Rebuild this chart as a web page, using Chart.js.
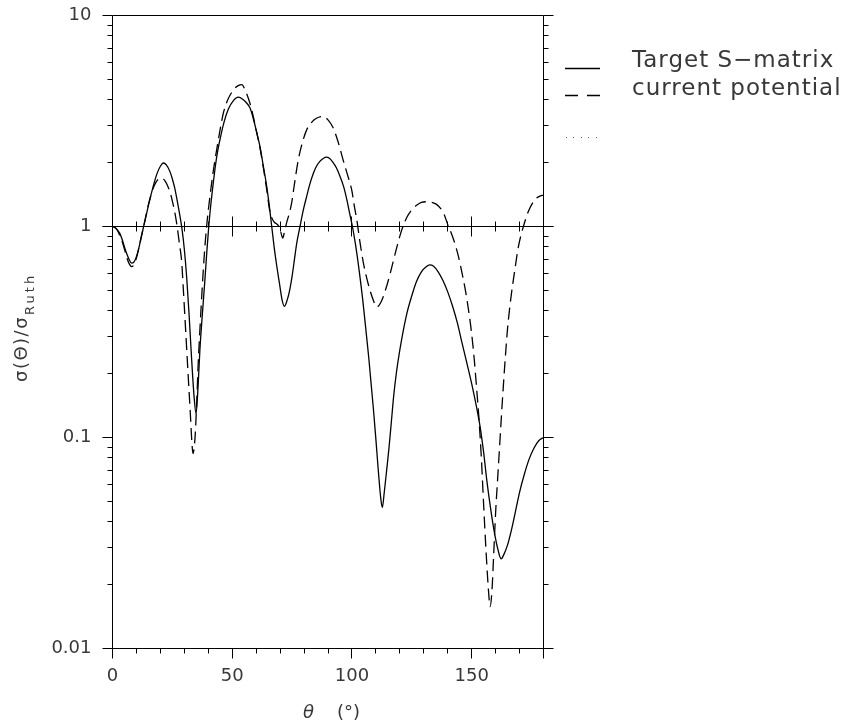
<!DOCTYPE html>
<html><head><meta charset="utf-8">
<script src="https://cdn.jsdelivr.net/npm/chart.js@4.4.1/dist/chart.umd.min.js"></script>
<style>html,body{margin:0;padding:0;background:#fff}#wrap{position:relative;width:844px;height:724px}canvas{display:block}</style>
</head><body><div id="wrap"><canvas id="c" width="844" height="724"></canvas></div>
<script>
// ---- data ----
const targetTheta = [0,1,2,3,4,5,6,7,8,9,10,11,12,13,14,15,16,17,18,19,20,21.2,22.5,24,25,26,27,28,29,30,31,32,33,34,34.9,35.8,36.5,37.5,38.6,39.4,40.2,41,42,43,44,45,46.5,48.4,50.5,52.5,54.5,56,57.4,58.8,60.2,61.6,63,64.4,65.5,66.5,67.5,68.6,69.7,70.8,71.8,73,74,75,76,77,78.3,79.7,81.1,82.5,83.9,85.3,86.7,88,89.3,90.7,92,93.5,95,96.5,98,99,100.2,101.5,103,104.5,106,107,108,109,110,111,112,112.7,113.5,114.5,115.5,116.5,117.5,118.5,120,121.5,123,125,127,129,131,132.5,134,136,138,140,142,144,146,148,150,152,153.5,155,156.3,157.8,159.3,160.8,162.3,163.5,165,166.5,168,170,172,174,176,178,180];
const targetSigma = [1.0,0.99,0.965,0.93,0.87,0.8,0.74,0.695,0.67,0.68,0.72,0.79,0.89,1.0,1.12,1.26,1.4,1.55,1.7,1.83,1.93,2.0,1.96,1.82,1.68,1.52,1.33,1.15,0.98,0.78,0.57,0.38,0.24,0.16,0.13,0.18,0.26,0.38,0.56,0.76,1.0,1.25,1.58,1.95,2.3,2.62,3.1,3.6,3.95,4.1,4.0,3.85,3.65,3.25,2.8,2.39,1.93,1.55,1.25,1.0,0.8,0.65,0.54,0.45,0.418,0.45,0.5,0.58,0.7,0.84,1.0,1.2,1.39,1.6,1.79,1.94,2.04,2.1,2.13,2.1,2.02,1.9,1.73,1.55,1.32,1.16,1.0,0.82,0.62,0.45,0.31,0.24,0.18,0.135,0.098,0.07,0.052,0.0466,0.055,0.07,0.09,0.12,0.16,0.2,0.26,0.324,0.39,0.47,0.55,0.61,0.645,0.658,0.65,0.61,0.555,0.49,0.42,0.35,0.28,0.225,0.18,0.14,0.113,0.085,0.063,0.047,0.0365,0.03,0.0266,0.028,0.031,0.036,0.043,0.055,0.067,0.079,0.089,0.0965,0.1];

const currentTheta = [0,1,2,3,4,5,6,7,8,9,10,11,12,13,14,15,16,17,18,19,20.5,22,23,24,25,26,27,28,28.9,29.6,30.5,31.7,32.5,33.1,33.6,34.5,35.2,35.8,36.6,37.5,38.4,39.3,40.7,42,43.5,45,46.3,48,50.5,52.5,54,55.5,57.4,58.8,60.2,61.6,63,64.4,65.5,66.5,67.5,68.5,69.5,70.3,71.1,71.8,72.7,73.8,74.8,76.2,77.6,79.3,81.1,83,85,88,90,92.2,94.3,96.3,98,99.9,101,102,103.3,104.7,106,107.5,109,110.3,112,114,116,118,120,121.3,123,125,127,129,131,133,135,137,138.5,140.3,141.5,143,144.5,146,147.5,149,150,151,152,153,154,155,156,157,157.7,158.5,159.2,160,161,162,163,164,165,166.5,168,169.5,171.6,173.7,176.4,178.3,180];
const currentSigma = [1.0,0.99,0.96,0.91,0.85,0.78,0.71,0.665,0.645,0.66,0.71,0.79,0.89,1.0,1.13,1.27,1.4,1.52,1.61,1.67,1.70,1.64,1.56,1.46,1.32,1.17,1.0,0.82,0.68,0.5,0.33,0.188,0.13,0.097,0.084,0.101,0.15,0.225,0.34,0.52,0.75,1.0,1.39,1.8,2.31,2.9,3.45,3.95,4.44,4.65,4.7,4.4,3.84,3.32,2.8,2.35,1.9,1.5,1.22,1.1,1.05,1.03,1.0,0.94,0.88,0.94,1.04,1.15,1.29,1.65,2.07,2.5,2.87,3.1,3.25,3.32,3.2,2.93,2.5,2.07,1.78,1.49,1.25,1.08,0.85,0.68,0.58,0.5,0.445,0.415,0.435,0.5,0.6,0.74,0.9,1.0,1.11,1.2,1.26,1.3,1.31,1.305,1.28,1.22,1.14,1.0,0.93,0.83,0.72,0.6,0.49,0.38,0.31,0.24,0.175,0.125,0.082,0.048,0.029,0.019,0.0158,0.019,0.028,0.044,0.068,0.105,0.16,0.235,0.33,0.47,0.62,0.8,1.0,1.18,1.34,1.39,1.41];

const refTheta = [0, 180];
const refSigma = [1, 1];

const xTickValues = [0, 50, 100, 150];
const yTickValues = [0.01, 0.1, 1, 10];
const seriesLabels = ['Target S\u2212matrix', 'current potential', ''];
const xTitleParts = ['\u03b8', '(\u00b0)'];
const yTitleParts = ['\u03c3(\u0398)/\u03c3', 'Ruth'];

function pts(xs, ys) { return xs.map((x, i) => ({ x: x, y: ys[i] })); }

const FONT = 'DejaVu Sans';
const TXT = '#383838';

const frame = {
  id: 'frame',
  afterDatasetsDraw(chart) {
    const { ctx, chartArea: a, scales } = chart;
    const xs = scales.x, ys = scales.y;
    const L = a.left, R = a.right, T = a.top, B = a.bottom;
    const snap = v => Math.round(v - 0.5) + 0.5;
    ctx.save();
    ctx.strokeStyle = '#000';
    ctx.lineWidth = 1;
    ctx.setLineDash([]);
    ctx.beginPath();
    const ln = (x1, y1, x2, y2) => { ctx.moveTo(x1, y1); ctx.lineTo(x2, y2); };
    ln(L, T, R, T);
    ln(L, T, L, B + 10);
    ln(R, T, R, B + 10);
    ln(L, B, R, B);
    // log ticks on left and right axes
    for (let e = -2; e <= 1; e++) {
      for (let m = 1; m <= 9; m++) {
        const v = m * Math.pow(10, e);
        if (v > 10.0001) break;
        const py = snap(ys.getPixelForValue(v));
        const len = m === 1 ? 10 : 5;
        ln(L - len, py, L, py);
        ln(R, py, R + len, py);
      }
    }
    // bottom ticks
    for (let t = 10; t < 180; t += 10) {
      const px = snap(xs.getPixelForValue(t));
      const len = t % 50 === 0 ? 10 : 5;
      ln(px, B, px, B + len);
    }
    // reference line at sigma ratio 1, with ticks both ways
    const p1 = snap(ys.getPixelForValue(1));
    ln(L - 10, p1, R + 10, p1);
    for (let t = 10; t < 180; t += 10) {
      const px = snap(xs.getPixelForValue(t));
      const len = t % 50 === 0 ? 10 : 5;
      ln(px, p1 - len, px, p1 + len);
    }
    ctx.stroke();
    ctx.restore();
  },
  afterDraw(chart) {
    const { ctx } = chart;
    ctx.save();
    // legend samples
    ctx.strokeStyle = '#000';
    ctx.lineWidth = 1.3;
    ctx.beginPath();
    ctx.moveTo(565, 68.5); ctx.lineTo(600, 68.5);
    ctx.moveTo(565, 95.5); ctx.lineTo(578, 95.5);
    ctx.moveTo(587, 95.5); ctx.lineTo(600, 95.5);
    ctx.stroke();
    ctx.fillStyle = '#666';
    [566, 573, 581, 588, 596].forEach(x => ctx.fillRect(x, 137, 1, 1));
    // legend text
    ctx.fillStyle = TXT;
    ctx.textBaseline = 'alphabetic';
    ctx.textAlign = 'left';
    ctx.font = '23px "' + FONT + '"';
    if ('letterSpacing' in ctx) ctx.letterSpacing = '1px';
    ctx.fillText(seriesLabels[0], 632, 67);
    ctx.fillText(seriesLabels[1], 632, 95);
    // x title
    if ('letterSpacing' in ctx) ctx.letterSpacing = '0px';
    ctx.font = 'italic 18px "' + FONT + '"';
    ctx.fillText(xTitleParts[0], 303, 718);
    ctx.font = '18px "' + FONT + '"';
    ctx.fillText(xTitleParts[1], 337, 718);
    // y title (rotated)
    ctx.translate(27, 382);
    ctx.rotate(-Math.PI / 2);
    ctx.font = '18px "' + FONT + '"';
    if ('letterSpacing' in ctx) ctx.letterSpacing = '1.5px';
    ctx.fillText(yTitleParts[0], 0, 0);
    const w = ctx.measureText(yTitleParts[0]).width;
    ctx.font = '13px "' + FONT + '"';
    if ('letterSpacing' in ctx) ctx.letterSpacing = '3px';
    ctx.fillText(yTitleParts[1], w + 1, 7);
    ctx.restore();
  }
};

new Chart(document.getElementById('c').getContext('2d'), {
  type: 'line',
  data: {
    datasets: [
      { label: seriesLabels[0], data: pts(targetTheta, targetSigma), borderColor: '#000', borderWidth: 1.3, pointRadius: 0, cubicInterpolationMode: 'monotone', fill: false },
      { label: seriesLabels[1], data: pts(currentTheta, currentSigma), borderColor: '#000', borderWidth: 1.3, borderDash: [12, 6], pointRadius: 0, cubicInterpolationMode: 'monotone', fill: false },
      { label: seriesLabels[2], data: pts(refTheta, refSigma), borderColor: '#000', borderWidth: 1, borderDash: [1, 5], pointRadius: 0, fill: false }
    ]
  },
  options: {
    responsive: false,
    animation: false,
    devicePixelRatio: 1,
    layout: { padding: { left: 0, top: 15.5, right: 844 - 543.5, bottom: 0 } },
    plugins: { legend: { display: false }, tooltip: { enabled: false } },
    scales: {
      x: {
        type: 'linear', min: 0, max: 180,
        afterBuildTicks: s => { s.ticks = xTickValues.map(v => ({ value: v })); },
        afterFit: s => { s.height = 724 - 648.5; s.paddingLeft = 0; s.paddingRight = 0; },
        grid: { display: false, drawTicks: false },
        border: { display: false },
        ticks: { padding: 17, autoSkip: false, maxRotation: 0, color: TXT, font: { family: FONT, size: 18 } }
      },
      y: {
        type: 'logarithmic', min: 0.01, max: 10,
        afterBuildTicks: s => { s.ticks = yTickValues.map(v => ({ value: v })); },
        afterFit: s => { s.width = 112.5; s.paddingTop = 0; s.paddingBottom = 0; },
        grid: { display: false, drawTicks: false },
        border: { display: false },
        ticks: { padding: 21, autoSkip: false, color: TXT, font: { family: FONT, size: 18 }, callback: v => String(v) }
      }
    }
  },
  plugins: [frame]
});
</script>
</body></html>
